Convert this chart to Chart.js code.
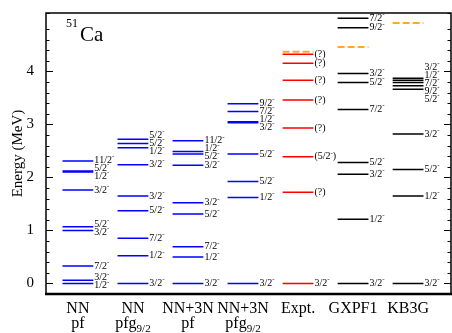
<!DOCTYPE html>
<html>
<head>
<meta charset="utf-8">
<script src="https://cdn.jsdelivr.net/npm/chart.js@4/dist/chart.umd.min.js"></script>
<style>
html,body{margin:0;padding:0;background:#fff;}
#wrap{width:452px;height:333px;position:relative;}
</style>
</head>
<body>
<div id="wrap"><canvas id="c" width="452" height="333"></canvas></div>
<script>
// ---- data ----
const categoryTop = ['NN', 'NN', 'NN+3N', 'NN+3N', 'Expt.', 'GXPF1', 'KB3G'];
const categoryBottom = ['pf', 'pfg', 'pf', 'pfg', '', '', ''];
const categorySub = ['', '9/2', '', '9/2', '', '', ''];

const nnPfE = [0, 0.06, 0.33, 1.00, 1.07, 1.76, 2.10, 2.12, 2.31];
const nnPfJ = ['1/2-', '3/2-', '7/2-', '3/2-', '5/2-', '3/2-', '1/2-', '5/2-', '11/2-'];

const nnPfgE = [0, 0.52, 0.85, 1.37, 1.65, 2.24, 2.56, 2.64, 2.72];
const nnPfgJ = ['3/2-', '1/2-', '7/2-', '5/2-', '3/2-', '3/2-', '1/2-', '5/2-', '5/2-'];

const nn3nPfE = [0, 0.50, 0.69, 1.31, 1.52, 2.23, 2.44, 2.49, 2.69];
const nn3nPfJ = ['3/2-', '1/2-', '7/2-', '5/2-', '3/2-', '3/2-', '5/2-', '1/2-', '11/2-'];

const nn3nPfgE = [0, 1.62, 1.92, 2.44, 3.03, 3.05, 3.24, 3.39];
const nn3nPfgJ = ['3/2-', '1/2-', '5/2-', '5/2-', '3/2-', '1/2-', '7/2-', '9/2-'];

const exptE = [0, 1.72, 2.39, 2.93, 3.46, 3.83, 4.15, 4.32];
const exptJ = ['3/2-', '(?)', '(5/2-)', '(?)', '(?)', '(?)', '(?)', '(?)'];
const exptDashedE = [4.37];

const gxpf1E = [0, 1.21, 2.06, 2.28, 3.28, 3.79, 3.96, 4.82, 5.00];
const gxpf1J = ['3/2-', '1/2-', '3/2-', '5/2-', '7/2-', '5/2-', '3/2-', '9/2-', '7/2-'];
const gxpf1DashedE = [4.46];

const kb3gE = [0, 1.65, 2.15, 2.82, 3.66, 3.73, 3.79, 3.83, 3.87];
const kb3gJ = ['3/2-', '1/2-', '5/2-', '3/2-', '5/2-', '9/2-', '7/2-', '1/2-', '3/2-'];
const kb3gDashedE = [4.91];

const yTicksMajor = [0, 1, 2, 3, 4, 5];

// ---- build ----
const columns = [
  {E: nnPfE, J: nnPfJ, color: '#0000ff'},
  {E: nnPfgE, J: nnPfgJ, color: '#0000ff'},
  {E: nn3nPfE, J: nn3nPfJ, color: '#0000ff'},
  {E: nn3nPfgE, J: nn3nPfgJ, color: '#0000ff'},
  {E: exptE, J: exptJ, color: '#ff0000', dashed: exptDashedE},
  {E: gxpf1E, J: gxpf1J, color: '#000000', dashed: gxpf1DashedE},
  {E: kb3gE, J: kb3gJ, color: '#000000', dashed: kb3gDashedE}
];
const HW = 0.28;

function segs(ci, arr) {
  const d = [];
  arr.forEach(e => {
    d.push({x: ci - HW, y: e});
    d.push({x: ci + HW, y: e});
    d.push({x: ci, y: null});
  });
  return d;
}

const datasets = [];
columns.forEach((c, i) => {
  datasets.push({
    data: segs(i, c.E), borderColor: c.color, borderWidth: 1.5,
    showLine: true, pointRadius: 0, spanGaps: false, fill: false
  });
  if (c.dashed) {
    datasets.push({
      data: segs(i, c.dashed), borderColor: '#ffa726', borderWidth: 2,
      borderDash: [7, 3], showLine: true, pointRadius: 0, spanGaps: false, fill: false
    });
  }
});

const SERIF = '"Liberation Serif", "Times New Roman", serif';

function drawJ(ctx, txt, x, y) {
  let cx = x;
  for (const ch of txt) {
    if (ch === '-') {
      ctx.font = '7px ' + SERIF;
      ctx.fillText('-', cx, y - 4);
      cx += ctx.measureText('-').width;
    } else {
      ctx.font = '10px ' + SERIF;
      ctx.fillText(ch, cx, y);
      cx += ctx.measureText(ch).width;
    }
  }
}

function spread(ys, gap) {
  // ys: array of {y, idx}; returns positions, cluster-merge
  const items = ys.slice().sort((a, b) => a.y - b.y);
  let groups = items.map(it => ({members: [it]}));
  const place = g => {
    const mean = g.members.reduce((s, m) => s + m.y, 0) / g.members.length;
    const n = g.members.length;
    g.top = mean - gap * (n - 1) / 2;
    g.bottom = g.top + gap * (n - 1);
  };
  groups.forEach(place);
  let changed = true;
  while (changed) {
    changed = false;
    for (let i = 0; i < groups.length - 1; i++) {
      if (groups[i + 1].top - groups[i].bottom < gap) {
        groups[i].members = groups[i].members.concat(groups[i + 1].members);
        groups.splice(i + 1, 1);
        place(groups[i]);
        changed = true;
        break;
      }
    }
  }
  const out = {};
  groups.forEach(g => g.members.forEach((m, k) => { out[m.idx] = g.top + k * gap; }));
  return out;
}

const decor = {
  id: 'decor',
  afterDatasetsDraw(chart) {
    const ctx = chart.ctx;
    const xs = chart.scales.x, ys = chart.scales.y;
    const a = chart.chartArea;
    ctx.save();
    ctx.fillStyle = '#000';
    ctx.textBaseline = 'middle';
    ctx.textAlign = 'left';
    // level labels
    columns.forEach((c, i) => {
      const xr = xs.getPixelForValue(i + HW) + 1;
      const pts = c.E.map((e, k) => ({y: ys.getPixelForValue(e), idx: k}));
      const pos = spread(pts, 8);
      c.J.forEach((j, k) => drawJ(ctx, j, xr, pos[k]));
    });
    // frame
    ctx.strokeStyle = '#000';
    ctx.lineWidth = 1.5;
    ctx.strokeRect(a.left, a.top, a.right - a.left, a.bottom - a.top);
    ctx.beginPath();
    ctx.lineWidth = 2.5;
    ctx.moveTo(a.left - 1, a.bottom);
    ctx.lineTo(a.right + 1, a.bottom);
    ctx.stroke();
    // ticks
    ctx.lineWidth = 1;
    ys.ticks.forEach(t => {
      const v = t.value;
      if (v < ys.min - 1e-6 || v > ys.max + 1e-6) return;
      const py = Math.round(ys.getPixelForValue(v)) + 0.5;
      const major = Math.abs(v - Math.round(v)) < 1e-6;
      const len = major ? 7 : 3.5;
      ctx.beginPath();
      ctx.moveTo(a.left, py); ctx.lineTo(a.left + len, py);
      ctx.moveTo(a.right, py); ctx.lineTo(a.right - len, py);
      ctx.stroke();
    });
    // category labels
    ctx.textAlign = 'center';
    ctx.textBaseline = 'alphabetic';
    categoryTop.forEach((t, i) => {
      const px = xs.getPixelForValue(i);
      ctx.font = '16px ' + SERIF;
      ctx.fillText(t, px, 313);
      const b = categoryBottom[i], s = categorySub[i];
      if (b) {
        ctx.font = '16px ' + SERIF;
        const wb = ctx.measureText(b).width;
        ctx.font = '11px ' + SERIF;
        const wsub = s ? ctx.measureText(s).width : 0;
        const x0 = px - (wb + wsub) / 2;
        ctx.textAlign = 'left';
        ctx.font = '16px ' + SERIF;
        ctx.fillText(b, x0, 328);
        if (s) { ctx.font = '11px ' + SERIF; ctx.fillText(s, x0 + wb, 332); }
        ctx.textAlign = 'center';
      }
    });
    // nucleus label
    ctx.textAlign = 'left';
    ctx.font = '12px ' + SERIF;
    ctx.fillText('51', 66, 27);
    ctx.font = '21px ' + SERIF;
    ctx.fillText('Ca', 80, 41);
    // y title
    ctx.save();
    ctx.translate(18, (a.top + a.bottom) / 2);
    ctx.rotate(-Math.PI / 2);
    ctx.textAlign = 'center';
    ctx.textBaseline = 'middle';
    ctx.font = '15px ' + SERIF;
    ctx.fillText('Energy (MeV)', 0, 0);
    ctx.restore();
    ctx.restore();
  }
};

new Chart(document.getElementById('c'), {
  type: 'scatter',
  data: {datasets},
  options: {
    responsive: false,
    animation: false,
    events: [],
    layout: {padding: {left: 0, top: 10, right: 1, bottom: 39}},
    plugins: {legend: {display: false}, tooltip: {enabled: false}},
    scales: {
      x: {type: 'linear', min: -0.58, max: 6.78, display: false},
      y: {
        type: 'linear', min: -0.2, max: 5.1,
        grid: {display: false},
        border: {display: false},
        afterFit(s) { s.width = 46; },
        ticks: {
          stepSize: 0.2, autoSkip: false, padding: 4,
          color: '#000',
          font: {family: SERIF, size: 15},
          callback(v) {
            const r = Math.round(v);
            return (Math.abs(v - r) < 1e-6 && yTicksMajor.includes(r)) ? String(r) : '';
          }
        }
      }
    }
  },
  plugins: [decor]
});
</script>
</body>
</html>
